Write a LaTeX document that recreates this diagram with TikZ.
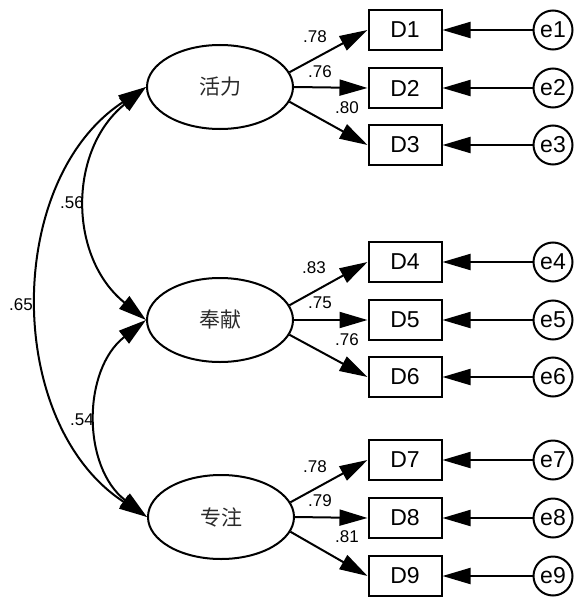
\documentclass[tikz,border=0pt]{standalone}
\usepackage{fontspec}
\setmainfont{Liberation Sans}
\newfontfamily\cjk{Noto Sans CJK SC}
\usetikzlibrary{arrows.meta,shapes.geometric}
\definecolor{cjkgray}{HTML}{2A2A2A}
\begin{document}
\begin{tikzpicture}[x=1pt,y=-1pt,
  every path/.style={line width=2pt},
  latent/.style={draw,ellipse,minimum width=146pt,minimum height=84pt,inner sep=0pt,text=cjkgray,font=\cjk\fontsize{21}{21}\selectfont},
  observed/.style={draw,rectangle,minimum width=73pt,minimum height=40pt,inner sep=0pt,font=\fontsize{23}{23}\selectfont},
  errnode/.style={draw,circle,minimum size=39pt,inner sep=0pt,font=\fontsize{23}{23}\selectfont},
  coef/.style={font=\fontsize{17}{17}\selectfont,inner sep=0pt},
  tip/.style={-{Triangle[length=28pt,width=16pt]}},
  dtip/.style={{Triangle[length=28pt,width=16pt]}-{Triangle[length=28pt,width=16pt]}}
]
\useasboundingbox (0,0) rectangle (574,599);

% latent factors
\node[latent] (F1) at (220,87) {活力};
\node[latent] (F2) at (220,320) {奉献};
\node[latent] (F3) at (221,517) {专注};

% indicators and their error terms
\foreach \i/\y in {1/30,2/88,3/145,4/262,5/320,6/377,7/460,8/518,9/576}{
  \node[observed] (D\i) at (405,\y) {D\i};
  \node[errnode] (e\i) at (553,\y) {e\i};
  \draw[tip] (e\i) -- (D\i.east);
}

% loadings
\foreach \f/\a/\b/\c in {F1/D1/D2/D3,F2/D4/D5/D6,F3/D7/D8/D9}{
  \draw[tip] (\f.12) -- (\a.west);
  \draw[tip] (\f.east) -- (\b.west);
  \draw[tip] (\f.-12) -- (\c.west);
}

\node[coef] (l1) at (315,37) {.78};
\node[coef] (l2) at (320,72) {.76};
\node[coef] (l3) at (347,108) {.80};
\node[coef] (l4) at (314,268) {.83};
\node[coef] (l5) at (320,303) {.75};
\node[coef] (l6) at (347,340) {.76};
\node[coef] (l7) at (315,467) {.78};
\node[coef] (l8) at (320,501) {.79};
\node[coef] (l9) at (347,537) {.81};

% factor correlations
\draw[dtip] (F1.west) .. controls (68,150) and (68,257) .. (F2.west);
\draw[dtip] (F2.west) .. controls (82,370) and (82,467) .. (F3.west);
\draw[dtip] (F1.west) .. controls (4,180) and (4,424) .. (F3.west);

\node[coef] (c12) at (72,203) {.56};
\node[coef] (c23) at (82,420) {.54};
\node[coef] (c13) at (21,305) {.65};
\end{tikzpicture}
\end{document}
